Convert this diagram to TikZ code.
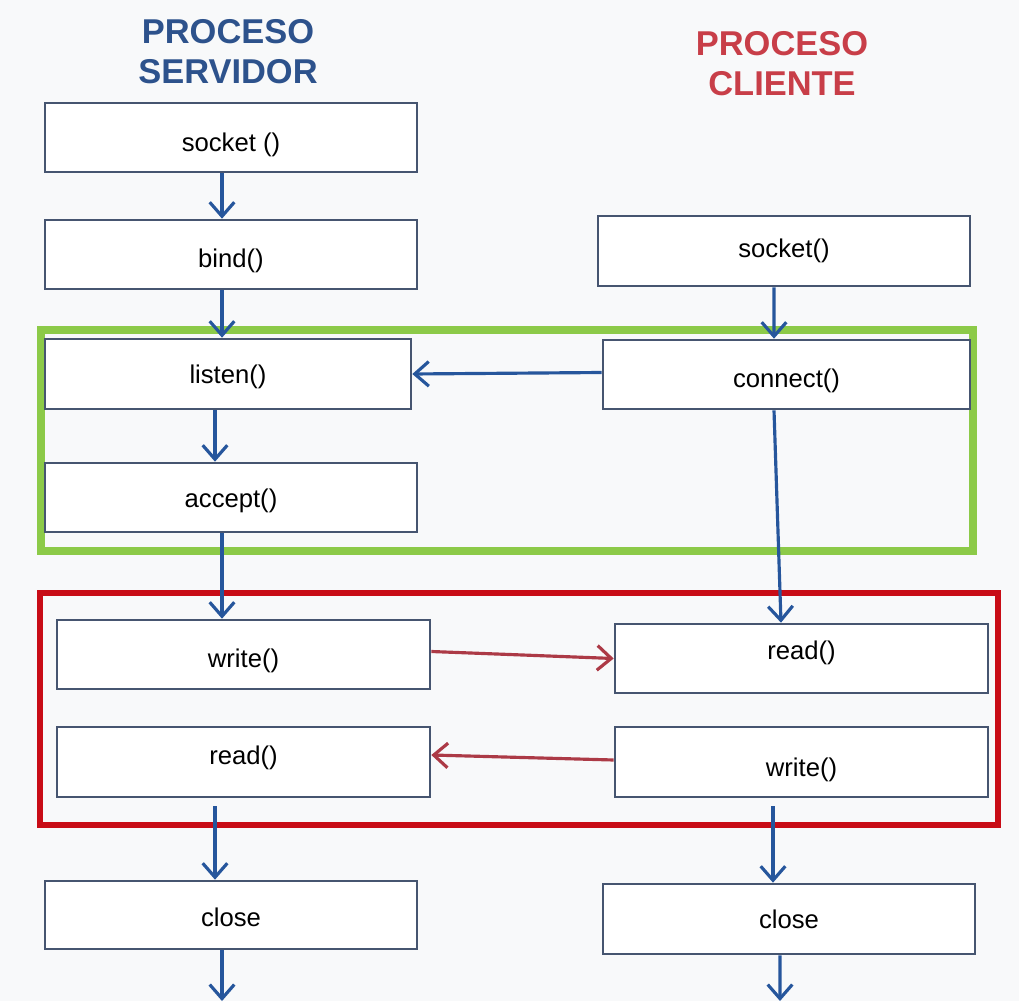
\documentclass[tikz,border=0pt]{standalone}
\usepackage{fontspec}
\setmainfont{Liberation Sans}
\usepackage{tikz}
\usetikzlibrary{arrows.meta, positioning, calc}
\definecolor{servblue}{RGB}{45, 82, 140}
\definecolor{clired}{RGB}{200, 62, 72}
\definecolor{boxline}{RGB}{70, 85, 112}
\definecolor{flowblue}{RGB}{38, 86, 156}
\definecolor{phasegreen}{RGB}{140, 202, 72}
\definecolor{phasered}{RGB}{200, 12, 22}
\definecolor{msgred}{RGB}{172, 58, 70}
\definecolor{paper}{RGB}{248, 249, 250}

\begin{document}
\begin{tikzpicture}[
    call/.style={draw=boxline, fill=white, line width=0.75pt, minimum width=3.72cm, minimum height=0.69cm, inner sep=0pt, text height=0.73em, text depth=0.21em, font=\fontsize{7.3}{9}\selectfont},
    flow/.style={-{Straight Barb[length=4pt, width=7pt]}, line width=0.9pt, flowblue},
    msg/.style={-{Straight Barb[length=4pt, width=7pt]}, line width=0.9pt, msgred},
    title/.style={font=\fontsize{9.8}{11.3}\selectfont\bfseries, align=center}
]
\useasboundingbox[fill=paper] (0,0) rectangle (10.19,10.01);

% Titles
\node[title, servblue] (tserv) at (2.28,9.49) {PROCESO\\SERVIDOR};
\node[title, clired] (tcli) at (7.82,9.375) {PROCESO\\CLIENTE};

% Phase frames
\draw[phasegreen, line width=2pt] (0.41,4.50) rectangle (9.73,6.71);
\draw[phasered, line width=1.7pt] (0.40,1.76) rectangle (9.98,4.08);

% Server side
\node[call] (ssocket) at (2.31,8.635) {\raisebox{-0.05cm}{socket ()}};
\node[call] (sbind) at (2.31,7.465) {\raisebox{-0.04cm}{bind()}};
\node[call, minimum width=3.66cm, minimum height=0.70cm] (slisten) at (2.28,6.27) {listen()};
\node[call] (saccept) at (2.31,5.035) {\raisebox{-0.01cm}{accept()}};
\node[call, minimum width=3.73cm] (swrite) at (2.435,3.465) {\raisebox{-0.04cm}{write()}};
\node[call, minimum width=3.73cm, minimum height=0.70cm] (sread) at (2.435,2.39) {\raisebox{0.07cm}{read()}};
\node[call, minimum height=0.68cm] (sclose) at (2.31,0.86) {\raisebox{-0.02cm}{close}};
\coordinate (send) at (2.22,0);

% Client side
\node[call, minimum height=0.70cm] (csocket) at (7.84,7.50) {\raisebox{0.03cm}{socket()}};
\node[call, minimum width=3.67cm] (cconnect) at (7.865,6.265) {\raisebox{-0.04cm}{connect()}};
\node[call, minimum width=3.73cm] (cread) at (8.015,3.425) {\raisebox{0.08cm}{read()}};
\node[call, minimum width=3.73cm, minimum height=0.70cm] (cwrite) at (8.015,2.39) {\raisebox{-0.05cm}{write()}};
\node[call, minimum height=0.70cm] (cclose) at (7.89,0.82) {close};
\coordinate (cend) at (7.80,0);

% Server flow
\draw[flow] ([xshift=-0.09cm]ssocket.south) -- ([xshift=-0.09cm]sbind.north);
\draw[flow] ([xshift=-0.09cm]sbind.south) -- ([xshift=-0.06cm]slisten.north);
\draw[flow] ([xshift=-0.13cm]slisten.south) -- ([xshift=-0.16cm]saccept.north);
\draw[flow] ([xshift=-0.09cm]saccept.south) -- ([xshift=-0.215cm]swrite.north);
\draw[flow] ([xshift=-0.285cm, yshift=-0.08cm]sread.south) -- ([xshift=-0.16cm]sclose.north);
\draw[flow] ([xshift=-0.09cm]sclose.south) -- (send);

% Client flow
\draw[flow] ([xshift=-0.10cm]csocket.south) -- ([xshift=-0.125cm]cconnect.north);
\draw[flow] ([yshift=0.02cm]cconnect.west) -- (slisten.east);
\draw[flow] ([xshift=-0.125cm]cconnect.south) -- ([xshift=-0.205cm]cread.north);
\draw[flow] ([xshift=-0.285cm, yshift=-0.08cm]cwrite.south) -- ([xshift=-0.16cm]cclose.north);
\draw[flow] ([xshift=-0.09cm]cclose.south) -- (cend);

% Messages
\draw[msg] ([yshift=0.03cm]swrite.east) -- (cread.west);
\draw[msg] ([yshift=0.02cm]cwrite.west) -- ([yshift=0.07cm]sread.east);
\end{tikzpicture}
\end{document}
